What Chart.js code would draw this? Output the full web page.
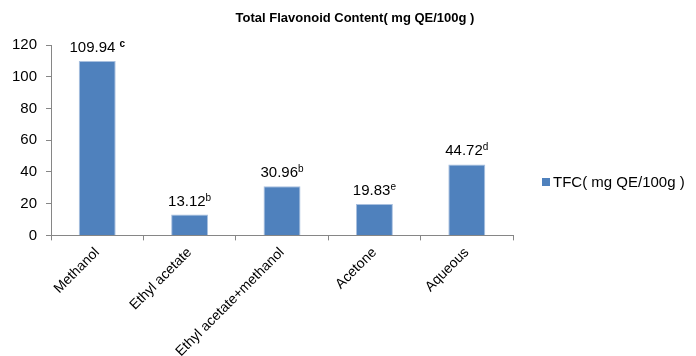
<!DOCTYPE html>
<html>
<head>
<meta charset="utf-8">
<script src="https://cdn.jsdelivr.net/npm/chart.js@4/dist/chart.umd.min.js"></script>
<style>
  html, body { margin: 0; padding: 0; background: #fff; overflow: hidden; }
  #wrap { width: 696px; height: 364px; }
</style>
</head>
<body>
<div id="wrap"><canvas id="c" width="696" height="364"></canvas></div>
<script>
// Extraction solvents and their total flavonoid content (mg QE/100g)
const categories = ['Methanol', 'Ethyl acetate', 'Ethyl acetate+methanol', 'Acetone', 'Aqueous'];
const tfcValues = [109.94, 13.12, 30.96, 19.83, 44.72];
const significanceLetters = ['c', 'b', 'b', 'e', 'd'];
const yTicks = [0, 20, 40, 60, 80, 100, 120];
const chartTitle = 'Total Flavonoid Content( mg QE/100g )';

const FONT = '"Liberation Sans", Arial, sans-serif';
const BAR_COLOR = '#4F81BD';
const BAR_EDGE = '#A9C0DF';
const AXIS_COLOR = '#868686';

// Value labels above each bar, with a superscript significance letter
const valueLabels = {
  id: 'valueLabels',
  afterDatasetsDraw(chart) {
    const ctx = chart.ctx;
    const meta = chart.getDatasetMeta(0);
    ctx.save();
    ctx.fillStyle = '#000';
    ctx.textBaseline = 'alphabetic';
    meta.data.forEach((bar, i) => {
      const num = tfcValues[i].toFixed(2);
      const letter = significanceLetters[i];
      const spaced = i === 0;
      ctx.font = '15px ' + FONT;
      const wNum = ctx.measureText(num).width;
      const letterFont = (spaced ? 'bold 10px ' : '10px ') + FONT;
      ctx.font = letterFont;
      const gap = spaced ? 4 : 0;
      const wLet = ctx.measureText(letter).width;
      const total = wNum + gap + wLet;
      const x0 = bar.x - total / 2;
      const baseY = bar.y - 9;
      ctx.textAlign = 'left';
      ctx.font = '15px ' + FONT;
      ctx.fillText(num, x0, baseY);
      ctx.font = letterFont;
      ctx.fillText(letter, x0 + wNum + gap, baseY - 5);
    });
    ctx.restore();
  }
};

// Title across the whole figure and the legend entry on the right
const frameText = {
  id: 'frameText',
  afterDraw(chart) {
    const ctx = chart.ctx;
    const ds = chart.data.datasets[0];
    ctx.save();
    ctx.fillStyle = '#000';
    ctx.font = 'bold 13px ' + FONT;
    ctx.textAlign = 'center';
    ctx.textBaseline = 'middle';
    ctx.fillText(chartTitle, 355, 18);

    ctx.fillStyle = ds.backgroundColor;
    ctx.fillRect(542, 178, 8, 8);
    ctx.fillStyle = '#000';
    ctx.font = '15px ' + FONT;
    ctx.textAlign = 'left';
    ctx.fillText(ds.label, 553, 183);
    ctx.restore();
  }
};

new Chart(document.getElementById('c'), {
  type: 'bar',
  data: {
    labels: categories,
    datasets: [{
      label: 'TFC( mg QE/100g )',
      data: tfcValues,
      backgroundColor: BAR_COLOR,
      borderColor: BAR_EDGE,
      borderWidth: { left: 1, right: 1, top: 1, bottom: 0 },
      categoryPercentage: 1.0,
      barPercentage: 0.4
    }]
  },
  options: {
    responsive: false,
    animation: false,
    devicePixelRatio: 1,
    layout: { padding: { left: 3, right: 183, top: 45, bottom: 0 } },
    plugins: {
      legend: { display: false },
      tooltip: { enabled: false },
      title: { display: false }
    },
    scales: {
      x: {
        border: { display: true, color: AXIS_COLOR, width: 1 },
        grid: { display: true, drawOnChartArea: false, drawTicks: true, tickLength: 5, color: AXIS_COLOR, offset: true },
        ticks: {
          color: '#000',
          font: { family: FONT, size: 14 },
          minRotation: 45,
          maxRotation: 45,
          autoSkip: false,
          padding: 4
        },
        afterFit(axis) { axis.paddingLeft = 0; }
      },
      y: {
        min: 0,
        max: 120,
        afterBuildTicks(axis) { axis.ticks = yTicks.map(v => ({ value: v })); },
        border: { display: true, color: AXIS_COLOR, width: 1 },
        grid: { display: true, drawOnChartArea: false, drawTicks: true, tickLength: 5, color: AXIS_COLOR },
        ticks: {
          color: '#000',
          font: { family: FONT, size: 15 },
          padding: 9
        }
      }
    }
  },
  plugins: [valueLabels, frameText]
});
</script>
</body>
</html>
